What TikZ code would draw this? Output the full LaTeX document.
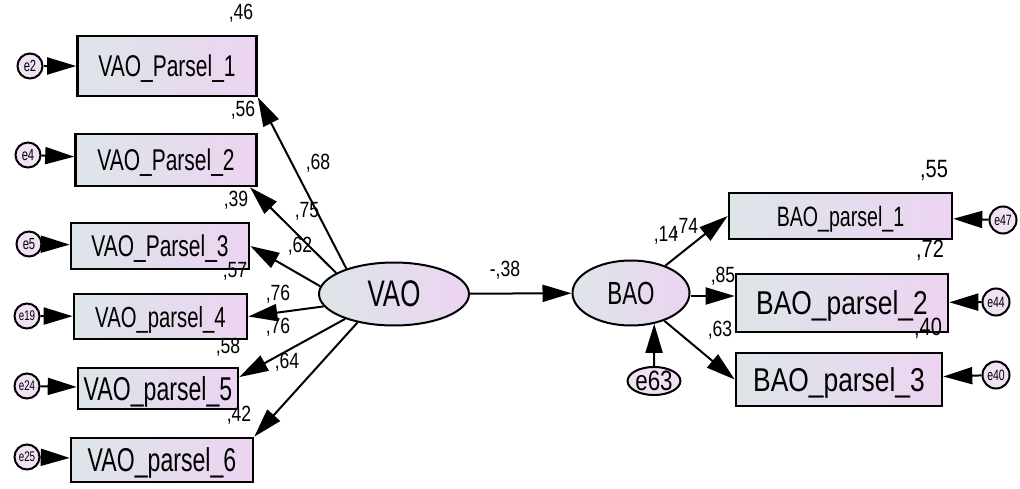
\documentclass[tikz,border=0pt]{standalone}
\usepackage{fontspec}
\setmainfont{Liberation Sans}
\newfontfamily\cond{Liberation Sans}[FakeStretch=0.70]
\newfontfamily\condB{Liberation Sans}[FakeStretch=0.80]
\usetikzlibrary{shapes.geometric,arrows.meta}
\definecolor{shadeL}{RGB}{221,229,233}
\definecolor{shadeR}{RGB}{236,212,241}
\definecolor{errfill}{RGB}{241,225,245}
\newcommand\fsz[1]{\fontsize{#1}{#1}\selectfont}

\begin{document}
\begin{tikzpicture}[x=1pt,y=-1pt,
  obs/.style={draw, line width=2.6pt, rectangle, left color=shadeL, right color=shadeR,
              inner sep=0pt, text depth=0pt},
  lat/.style={draw, line width=2pt, ellipse, left color=shadeL, right color=shadeR,
              inner sep=0pt, text depth=0pt},
  err/.style={draw, line width=2pt, circle, fill=errfill, inner sep=0pt,
              minimum size=25pt, font=\cond\fsz{16}},
  arr/.style={line width=2pt, -{Triangle[length=29pt,width=17pt]}},
  coef/.style={inner sep=0pt, font=\condB\fsz{22}},
  coefL/.style={inner sep=0pt, font=\condB\fsz{25}}
]
\useasboundingbox (0,0) rectangle (1020,489);

% observed indicators of VAO
\node[obs, minimum width=179pt, minimum height=60pt, font=\cond\fsz{30}] (b1) at (167,66) {VAO\_Parsel\_1};
\node[obs, minimum width=181pt, minimum height=52pt, font=\cond\fsz{30}] (b2) at (166,160) {VAO\_Parsel\_2};
\node[obs, minimum width=178pt, minimum height=46pt, font=\cond\fsz{30}] (b3) at (160,246) {VAO\_Parsel\_3};
\node[obs, minimum width=173pt, minimum height=45pt, font=\cond\fsz{29}] (b4) at (160.5,316.5) {VAO\_parsel\_4};
\node[obs, minimum width=160pt, minimum height=41pt, font=\cond\fsz{33}] (b5) at (158,388.5) {VAO\_parsel\_5};
\node[obs, minimum width=182pt, minimum height=44pt, font=\cond\fsz{33}] (b6) at (162,460) {VAO\_parsel\_6};

% observed indicators of BAO
\node[obs, minimum width=223pt, minimum height=46pt, font=\cond\fsz{28}] (c1) at (840.5,216) {BAO\_parsel\_1};
\node[obs, minimum width=212pt, minimum height=58pt, font=\condB\fsz{33}] (c2) at (842,303) {BAO\_parsel\_2};
\node[obs, minimum width=206pt, minimum height=53pt, font=\condB\fsz{33}] (c3) at (839,379.5) {BAO\_parsel\_3};

% latent variables
\node[lat, minimum width=150pt, minimum height=63pt, font=\cond\fsz{37}] (VAO) at (394,294) {VAO};
\node[lat, minimum width=117pt, minimum height=65pt, font=\cond\fsz{32}] (BAO) at (631,293) {BAO};

% error terms
\node[err] (e2) at (30,66) {e2};
\node[err] (e4) at (28,155) {e4};
\node[err] (e5) at (29,244) {e5};
\node[err, font=\cond\fsz{14}] (e19) at (27,316) {e19};
\node[err, font=\cond\fsz{14}] (e24) at (27,386) {e24};
\node[err, font=\cond\fsz{14}] (e25) at (27,457) {e25};
\node[err, minimum size=27pt, font=\cond\fsz{15}] (e47) at (1003,220) {e47};
\node[err, minimum size=27pt, font=\cond\fsz{15}] (e44) at (996,302) {e44};
\node[err, minimum size=27pt, font=\cond\fsz{15}] (e40) at (996,375) {e40};
\node[draw, line width=2pt, ellipse, fill=errfill, inner sep=0pt,
      minimum width=51pt, minimum height=23pt, font=\condB\fsz{28}] (e63) at (654,381) {e63};

% error paths
\draw[arr] (e2) -- (b1);
\draw[arr] (e4) -- (b2);
\draw[arr] (e5) -- (b3);
\draw[arr] (e19) -- (b4);
\draw[arr] (e24) -- (b5);
\draw[arr] (e25) -- (b6);
\draw[arr] (e47) -- (c1);
\draw[arr] (e44) -- (c2);
\draw[arr] (e40) -- (c3);
\draw[arr] (e63.north) -- (BAO.-53);

% loadings
\draw[arr] (VAO.152) -- (b1.south east);
\draw[arr] (VAO.160) -- (b2.-18);
\draw[arr] (VAO.174) -- (b3.east);
\draw[arr] (VAO.190) -- (b4.east);
\draw[arr] (VAO.207) -- (b5.8);
\draw[arr] (VAO.218) -- (b6.north east);
\draw[arr] (VAO) -- (BAO);
\draw[arr] (BAO) -- (c1.west);
\draw[arr] ([yshift=-3pt]BAO.east) -- ([yshift=-3pt]BAO.east -| c2.west);
\draw[arr] (BAO) -- (c3.west);

% estimates
\node[coef] (r1) at (241,13) {,46};
\node[coef] (r2) at (243,110) {,56};
\node[coef] (r3) at (236,200) {,39};
\node[coef] (r4) at (235,271) {,57};
\node[coef] (r5) at (228,347) {,58};
\node[coef] (r6) at (239,415) {,42};
\node[coef] (l1) at (318,163) {,68};
\node[coef] (l2) at (307,211) {,75};
\node[coef] (l3) at (300,246) {,62};
\node[coef] (l4) at (278,294) {,76};
\node[coef] (l5) at (278,327) {,76};
\node[coef] (l6) at (287,362) {,64};
\node[coef] (g1) at (505,270) {-,38};
\node[coef] (rb) at (666,235) {,14};
\node[coef] (m1) at (686,227) {,74};
\node[coef] (m2) at (723,276) {,85};
\node[coef] (m3) at (720,330) {,63};
\node[coefL] (s1) at (934,170) {,55};
\node[coefL] (s2) at (930,250) {,72};
\node[coefL] (s3) at (928,328) {,40};
\end{tikzpicture}
\end{document}
